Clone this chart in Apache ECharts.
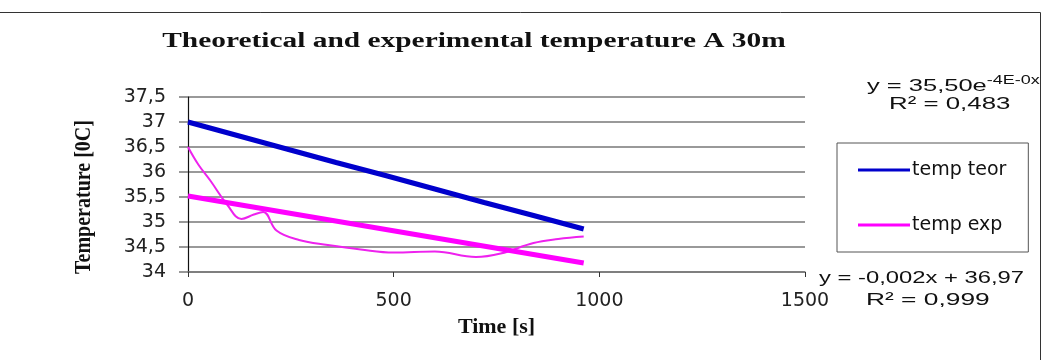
<!DOCTYPE html>
<html>
<head>
<meta charset="utf-8">
<title>Theoretical and experimental temperature A 30m</title>
<script src="https://cdn.jsdelivr.net/npm/echarts@6/dist/echarts.min.js"></script>
<style>
  html, body { margin: 0; padding: 0; background: #ffffff; }
  #chart { width: 1045px; height: 360px; }
</style>
</head>
<body>
<div id="chart"></div>
<script>
// Axis ticks
const xTicks = [0, 500, 1000, 1500];
const yTicks = [34, 34.5, 35, 35.5, 36, 36.5, 37, 37.5];

// Theoretical temperature (time s, temperature °C)
const teorTime = [0, 120, 240, 360, 480, 600, 720, 840, 962];
const teorTemp = [37.00, 36.73, 36.46, 36.19, 35.93, 35.66, 35.39, 35.13, 34.86];

// Experimental temperature
const expTime = [0, 25, 55, 95, 130, 160, 183, 215, 270, 340, 420, 500, 600, 700, 760, 840, 900, 962];
const expTemp = [36.50, 36.15, 35.82, 35.35, 35.06, 35.15, 35.20, 34.83, 34.64, 34.54, 34.45, 34.39, 34.41, 34.30, 34.37, 34.58, 34.66, 34.71];

// Trend line fitted to the experimental data
const trendTime = [0, 962];
const trendTemp = [35.52, 34.18];

const seriesNames = ['temp teor', 'temp exp'];
const titleText = 'Theoretical and experimental temperature A 30m';
const yName = 'Temperature [0C]';
const xName = 'Time [s]';

const pairs = (xs, ys) => xs.map((x, i) => [x, ys[i]]);
const comma = v => String(v).replace('.', ',');
const lineIcon = 'path://M0,0H52V3H0Z';

const chart = echarts.init(document.getElementById('chart'), null, { renderer: 'canvas' });

chart.setOption({
  animation: false,
  backgroundColor: '#ffffff',
  grid: { left: 188, right: 240, top: 97, bottom: 88 },
  legend: {
    data: seriesNames.map(name => ({ name, icon: lineIcon })),
    orient: 'vertical',
    left: 837,
    top: 143,
    padding: [17, 22, 17, 21],
    itemGap: 35,
    itemWidth: 52,
    itemHeight: 20,
    borderColor: '#555555',
    borderWidth: 1,
    textStyle: { fontFamily: 'DejaVu Sans', fontSize: 19, color: '#111111', lineHeight: 20, padding: [0, 0, 0, -3] }
  },
  xAxis: {
    type: 'value',
    min: xTicks[0],
    max: xTicks[xTicks.length - 1],
    interval: xTicks[1] - xTicks[0],
    name: xName,
    nameLocation: 'middle',
    nameGap: 44,
    nameTextStyle: { fontFamily: 'Liberation Serif', fontWeight: 'bold', fontSize: 22, color: '#111111' },
    axisLine: { show: true, lineStyle: { color: '#777777', width: 1.5 } },
    axisTick: { show: true, inside: false, length: 5, lineStyle: { color: '#333333' } },
    axisLabel: { fontFamily: 'DejaVu Sans', fontSize: 19, color: '#222222', margin: 20, formatter: v => String(v) },
    splitLine: { show: false }
  },
  yAxis: {
    type: 'value',
    min: yTicks[0],
    max: yTicks[yTicks.length - 1],
    interval: yTicks[1] - yTicks[0],
    axisLine: { show: true, onZero: false, lineStyle: { color: '#111111', width: 1.2 } },
    axisTick: { show: true, inside: false, length: 9, lineStyle: { color: '#777777', width: 1.5 } },
    axisLabel: { fontFamily: 'DejaVu Sans', fontSize: 19, color: '#222222', margin: 22, formatter: comma },
    splitLine: { show: true, lineStyle: { color: '#777777', width: 1.5 } }
  },
  series: [
    {
      name: 'temp teor',
      type: 'line',
      data: pairs(teorTime, teorTemp),
      symbol: 'none',
      color: '#0000cc',
      lineStyle: { color: '#0000cc', width: 5 },
      z: 3
    },
    {
      name: 'temp exp',
      type: 'line',
      data: pairs(expTime, expTemp),
      smooth: 0.4,
      symbol: 'none',
      color: '#ff00ff',
      lineStyle: { color: '#ee22ee', width: 2 },
      z: 2
    },
    {
      name: 'trend exp',
      type: 'line',
      data: pairs(trendTime, trendTemp),
      symbol: 'none',
      color: '#ff00ff',
      lineStyle: { color: '#ff00ff', width: 5 },
      z: 3
    }
  ],
  graphic: [
    // outer frame edges
    { type: 'line', shape: { x1: 0, y1: 12.5, x2: 1040.5, y2: 12.5 }, style: { stroke: '#333333', lineWidth: 1 } },
    { type: 'line', shape: { x1: 1040.5, y1: 12.5, x2: 1040.5, y2: 360 }, style: { stroke: '#333333', lineWidth: 1 } },
    // title
    {
      type: 'text', x: 474, y: 42, scaleX: 1.47,
      style: { text: titleText, font: 'bold 20px "Liberation Serif"', fill: '#111111', align: 'center', verticalAlign: 'middle' }
    },
    // y axis title
    {
      type: 'text', x: 84, y: 197, rotation: Math.PI / 2, scaleY: 1.15,
      style: { text: yName, font: 'bold 20px "Liberation Serif"', fill: '#111111', align: 'center', verticalAlign: 'middle' }
    },
    // trend equations
    {
      type: 'text', x: 867, y: 85, scaleX: 1.5,
      style: {
        text: '{a|y = 35,50e}{s|-4E-0x}',
        align: 'left', verticalAlign: 'middle', fill: '#111111',
        rich: {
          a: { fontFamily: 'Liberation Sans', fontSize: 17, lineHeight: 20, verticalAlign: 'bottom', fill: '#111111' },
          s: { fontFamily: 'Liberation Sans', fontSize: 12, lineHeight: 20, verticalAlign: 'top', fill: '#111111' }
        }
      }
    },
    {
      type: 'text', x: 889, y: 104, scaleX: 1.52,
      style: { text: 'R² = 0,483', font: '17px "Liberation Sans"', fill: '#111111', align: 'left', verticalAlign: 'middle' }
    },
    {
      type: 'text', x: 819, y: 278, scaleX: 1.4,
      style: { text: 'y = -0,002x + 36,97', font: '17px "Liberation Sans"', fill: '#111111', align: 'left', verticalAlign: 'middle' }
    },
    {
      type: 'text', x: 866, y: 300, scaleX: 1.55,
      style: { text: 'R² = 0,999', font: '17px "Liberation Sans"', fill: '#111111', align: 'left', verticalAlign: 'middle' }
    }
  ]
});
</script>
</body>
</html>
